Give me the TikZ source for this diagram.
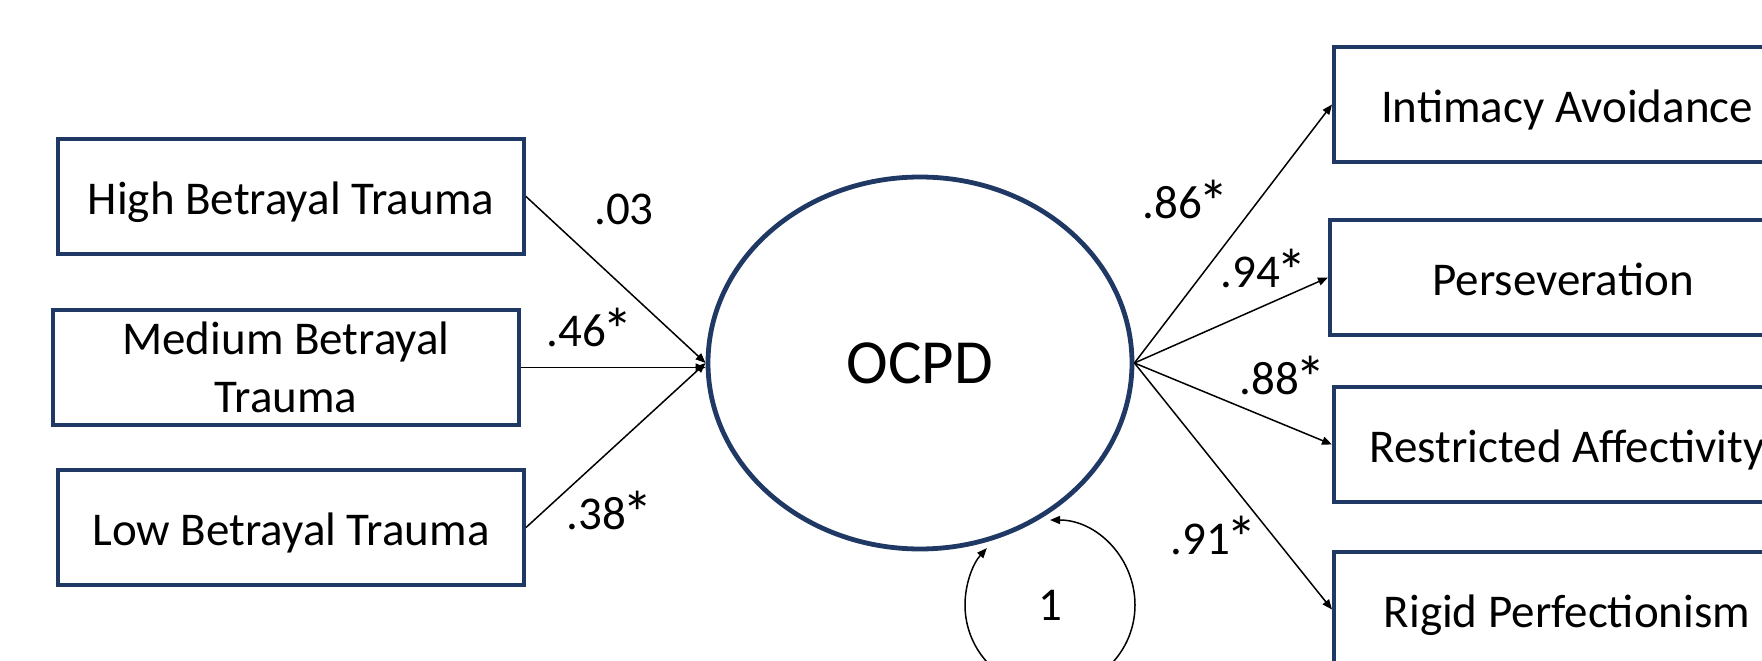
\documentclass[tikz,border=0pt]{standalone}
\usepackage{fontspec}
\setmainfont{Carlito}
\usepackage{xcolor}
\usepackage{graphicx}
\usepackage{tikz}
\usetikzlibrary{shapes.geometric,arrows.meta}
\definecolor{navy}{HTML}{1F3864}
\newcommand\sig{\kern-0.07em\raisebox{-0.25ex}{\scalebox{1.3}{*}}}
\tikzset{
  box/.style={draw=navy, line width=2pt, minimum width=233pt, minimum height=57.5pt,
              inner sep=0pt, align=center, font=\fontsize{23.5}{29}\selectfont},
  one/.style={text height=22pt, text depth=4pt},
  lat/.style={ellipse, draw=navy, line width=2.4pt, minimum width=212pt,
              minimum height=186pt, inner sep=0pt, font=\fontsize{31.4}{36}\selectfont},
  lbl/.style={font=\fontsize{23.5}{28}\selectfont, inner sep=0pt},
  path/.style={line width=0.75pt, -{Triangle[length=5pt,width=4pt]}}
}

\begin{document}
\begin{tikzpicture}[x=0.5pt, y=0.5pt]
\useasboundingbox (0,0) rectangle (1762,660);
\clip (0,0) rectangle (1762,660);

% predictors
\node[box,one] (high) at (291,463.5) {High Betrayal Trauma};
\node[box] (med) at (286,292.5) {Medium Betrayal\\Trauma};
\node[box,one] (low) at (291,132.5) {Low Betrayal Trauma};

% latent factor
\node[lat] (ocpd) at (920,297) {OCPD};

% indicators
\node[box,one] (intim) at (1567,555.5) {Intimacy Avoidance};
\node[box,one] (pers) at (1563,382.5) {Perseveration};
\node[box,one] (restr) at (1567,215.5) {Restricted Affectivity};
\node[box,one] (rigid) at (1567,50.5) {Rigid Perfectionism};

\draw[path] (high.east) -- (ocpd.west);
\draw[path] (med.east) -- (med.east -| ocpd.west);
\draw[path] (low.east) -- (ocpd.west);
\draw[path] (ocpd.east) -- (intim.west);
\draw[path] (ocpd.east) -- (pers.west);
\draw[path] (ocpd.east) -- (restr.west);
\draw[path] (ocpd.east) -- (rigid.west);

\node[lbl] (w1) at (624,451) {.03};
\node[lbl] (w2) at (590,330) {.46\sig};
\node[lbl] (w3) at (610,147) {.38\sig};
\node[lbl] (l1) at (1186,458) {.86\sig};
\node[lbl] (l2) at (1264,389) {.94\sig};
\node[lbl] (l3) at (1283,282) {.88\sig};
\node[lbl] (l4) at (1214,122) {.91\sig};

% variance loop
\coordinate (vc) at (1050,55);
\draw[line width=0.75pt, {Triangle[length=5pt,width=4pt]}-{Triangle[length=5pt,width=4pt]}]
  ([shift={(90:85)}]vc) arc[start angle=90, end angle=-222, radius=42.5pt];
\node[lbl] (one) at (vc) {1};
\end{tikzpicture}
\end{document}
